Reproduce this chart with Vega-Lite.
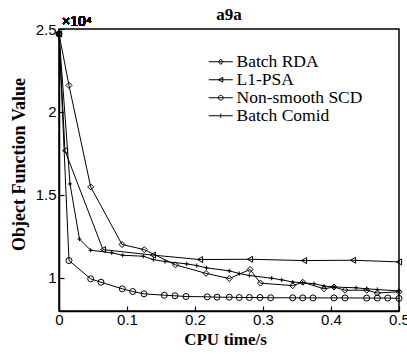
{
  "$schema": "https://vega.github.io/schema/vega-lite/v6.json",
  "width": 340,
  "height": 282,
  "autosize": "none",
  "padding": {"left": 59, "top": 29, "right": 8, "bottom": 43},
  "background": "white",
  "title": {"text": "a9a", "font": "Liberation Serif", "fontSize": 17, "fontWeight": "bold", "color": "black", "offset": 4, "anchor": "middle", "dy": 13},
  "config": {
    "view": {"stroke": "black", "strokeWidth": 1.5},
    "axis": {
      "domainColor": "black", "domainWidth": 1.5, "tickColor": "black", "tickWidth": 1.2,
      "labelFont": "Liberation Sans", "labelFontSize": 15, "labelColor": "black",
      "titleFont": "Liberation Serif", "titleFontSize": 17, "titleFontWeight": "bold", "titleColor": "black",
      "grid": false
    },
    "legend": {
      "orient": "none", "legendX": 153, "legendY": 24, "padding": 0,
      "labelFont": "Liberation Serif", "labelFontSize": 17.5, "labelColor": "black",
      "symbolSize": 144, "labelOffset": 7,
      "symbolStrokeColor": "black", "symbolStrokeWidth": 1, "symbolFillColor": "transparent"
    }
  },
  "data": {"values": [
    {"series": "Batch RDA", "t": 0, "v": 24700},
    {"series": "Batch RDA", "t": 0.0147, "v": 21600},
    {"series": "Batch RDA", "t": 0.0466, "v": 15480},
    {"series": "Batch RDA", "t": 0.0926, "v": 12010},
    {"series": "Batch RDA", "t": 0.1254, "v": 11700},
    {"series": "Batch RDA", "t": 0.1713, "v": 10780},
    {"series": "Batch RDA", "t": 0.2162, "v": 10270},
    {"series": "Batch RDA", "t": 0.2504, "v": 9958},
    {"series": "Batch RDA", "t": 0.2809, "v": 10500},
    {"series": "Batch RDA", "t": 0.2963, "v": 9680},
    {"series": "Batch RDA", "t": 0.3437, "v": 9530},
    {"series": "Batch RDA", "t": 0.3584, "v": 9735},
    {"series": "Batch RDA", "t": 0.3897, "v": 9338},
    {"series": "Batch RDA", "t": 0.4044, "v": 9446},
    {"series": "Batch RDA", "t": 0.4206, "v": 9253},
    {"series": "Batch RDA", "t": 0.4525, "v": 9253},
    {"series": "Batch RDA", "t": 0.4681, "v": 9085},
    {"series": "Batch RDA", "t": 0.5, "v": 9160},
    {"series": "L1-PSA", "t": 0, "v": 24700},
    {"series": "L1-PSA", "t": 0.0088, "v": 17670},
    {"series": "L1-PSA", "t": 0.0647, "v": 11700},
    {"series": "L1-PSA", "t": 0.138, "v": 11370},
    {"series": "L1-PSA", "t": 0.2074, "v": 11100},
    {"series": "L1-PSA", "t": 0.2809, "v": 11120},
    {"series": "L1-PSA", "t": 0.3603, "v": 11040},
    {"series": "L1-PSA", "t": 0.4324, "v": 11060},
    {"series": "L1-PSA", "t": 0.5, "v": 10960},
    {"series": "Non-smooth SCD", "t": 0, "v": 24700},
    {"series": "Non-smooth SCD", "t": 0.0147, "v": 11040},
    {"series": "Non-smooth SCD", "t": 0.0466, "v": 9940},
    {"series": "Non-smooth SCD", "t": 0.0618, "v": 9735},
    {"series": "Non-smooth SCD", "t": 0.0931, "v": 9338},
    {"series": "Non-smooth SCD", "t": 0.1084, "v": 9175},
    {"series": "Non-smooth SCD", "t": 0.125, "v": 9036},
    {"series": "Non-smooth SCD", "t": 0.1549, "v": 8952},
    {"series": "Non-smooth SCD", "t": 0.1706, "v": 8916},
    {"series": "Non-smooth SCD", "t": 0.1868, "v": 8874},
    {"series": "Non-smooth SCD", "t": 0.2181, "v": 8856},
    {"series": "Non-smooth SCD", "t": 0.2324, "v": 8832},
    {"series": "Non-smooth SCD", "t": 0.2504, "v": 8832},
    {"series": "Non-smooth SCD", "t": 0.2651, "v": 8814},
    {"series": "Non-smooth SCD", "t": 0.2799, "v": 8814},
    {"series": "Non-smooth SCD", "t": 0.2956, "v": 8814},
    {"series": "Non-smooth SCD", "t": 0.3113, "v": 8796},
    {"series": "Non-smooth SCD", "t": 0.3437, "v": 8796},
    {"series": "Non-smooth SCD", "t": 0.3584, "v": 8790},
    {"series": "Non-smooth SCD", "t": 0.3735, "v": 8790},
    {"series": "Non-smooth SCD", "t": 0.4044, "v": 8790},
    {"series": "Non-smooth SCD", "t": 0.4206, "v": 8790},
    {"series": "Non-smooth SCD", "t": 0.4525, "v": 8780},
    {"series": "Non-smooth SCD", "t": 0.4681, "v": 8780},
    {"series": "Non-smooth SCD", "t": 0.4834, "v": 8780},
    {"series": "Non-smooth SCD", "t": 0.5, "v": 8760},
    {"series": "Batch Comid", "t": 0, "v": 24700},
    {"series": "Batch Comid", "t": 0.0162, "v": 15660},
    {"series": "Batch Comid", "t": 0.0301, "v": 12340},
    {"series": "Batch Comid", "t": 0.0466, "v": 11660},
    {"series": "Batch Comid", "t": 0.0775, "v": 11510},
    {"series": "Batch Comid", "t": 0.0937, "v": 11360},
    {"series": "Batch Comid", "t": 0.124, "v": 11300},
    {"series": "Batch Comid", "t": 0.1387, "v": 11100},
    {"series": "Batch Comid", "t": 0.1559, "v": 10980},
    {"series": "Batch Comid", "t": 0.1878, "v": 10840},
    {"series": "Batch Comid", "t": 0.2025, "v": 10740},
    {"series": "Batch Comid", "t": 0.2169, "v": 10600},
    {"series": "Batch Comid", "t": 0.2504, "v": 10420},
    {"series": "Batch Comid", "t": 0.2651, "v": 10260},
    {"series": "Batch Comid", "t": 0.2799, "v": 10140},
    {"series": "Batch Comid", "t": 0.3128, "v": 9976},
    {"series": "Batch Comid", "t": 0.3275, "v": 9880},
    {"series": "Batch Comid", "t": 0.3437, "v": 9747},
    {"series": "Batch Comid", "t": 0.3584, "v": 9700},
    {"series": "Batch Comid", "t": 0.375, "v": 9645},
    {"series": "Batch Comid", "t": 0.3897, "v": 9506},
    {"series": "Batch Comid", "t": 0.4044, "v": 9446},
    {"series": "Batch Comid", "t": 0.4368, "v": 9398},
    {"series": "Batch Comid", "t": 0.4525, "v": 9338},
    {"series": "Batch Comid", "t": 0.4681, "v": 9295},
    {"series": "Batch Comid", "t": 0.5, "v": 9210}
  ]},
  "encoding": {
    "x": {"field": "t", "type": "quantitative", "scale": {"domain": [0, 0.5], "nice": false},
      "axis": {"values": [0, 0.1, 0.2, 0.3, 0.4, 0.5], "labelExpr": "datum.value", "labelFlush": false, "title": "CPU time/s", "tickSize": -5, "labelPadding": 6, "titleX": 166, "titlePadding": 4}},
    "y": {"field": "v", "type": "quantitative", "scale": {"domain": [8000, 25000], "nice": false, "zero": false},
      "axis": {"values": [10000, 15000, 20000, 25000], "labelExpr": "datum.value / 10000", "title": "Object Function Value", "titleFontSize": 18, "tickSize": -5, "labelPadding": 8, "titleX": -40, "titleY": 135, "titleBaseline": "middle"}}
  },
  "resolve": {"scale": {"shape": "independent"}, "legend": {"shape": "independent"}},
  "layer": [
    {"mark": {"type": "line", "color": "black", "strokeWidth": 1},
     "encoding": {"detail": {"field": "series"}, "order": {"field": "t"}}},
    {"mark": {"type": "point", "filled": false, "color": "black", "strokeWidth": 1, "size": 36, "opacity": 1},
     "encoding": {"shape": {"field": "series", "type": "nominal",
       "scale": {"domain": ["Batch RDA", "L1-PSA", "Non-smooth SCD", "Batch Comid"], "range": ["diamond", "triangle-left", "circle", "M-0.7,0H0.7M0,-0.7V0.7"]},
       "legend": null}}},
    {"transform": [{"filter": "datum.t < 0"}],
     "mark": {"type": "point", "filled": false, "color": "black", "strokeWidth": 1, "opacity": 1},
     "encoding": {"shape": {"field": "series", "type": "nominal",
       "scale": {"domain": ["Batch RDA", "L1-PSA", "Non-smooth SCD", "Batch Comid"],
         "range": ["M-2,0H2M-0.35,0L0,-0.45L0.35,0L0,0.45Z", "M-2,0H2M-0.4,0L0.35,-0.4L0.35,0.4Z", "M-2,0H2M-0.4,0A0.4,0.4 0 1,0 0.4,0A0.4,0.4 0 1,0 -0.4,0", "M-2,0H2M0,-0.35V0.35"]},
       "legend": {"title": null, "rowPadding": -5}}}},
    {"mark": {"type": "text", "align": "left", "baseline": "alphabetic", "dx": 3, "dy": -3, "font": "Liberation Sans", "fontSize": 14, "color": "black"},
     "encoding": {"x": {"datum": 0}, "y": {"datum": 25000}, "text": {"value": "×10⁴"}}}
  ]
}
